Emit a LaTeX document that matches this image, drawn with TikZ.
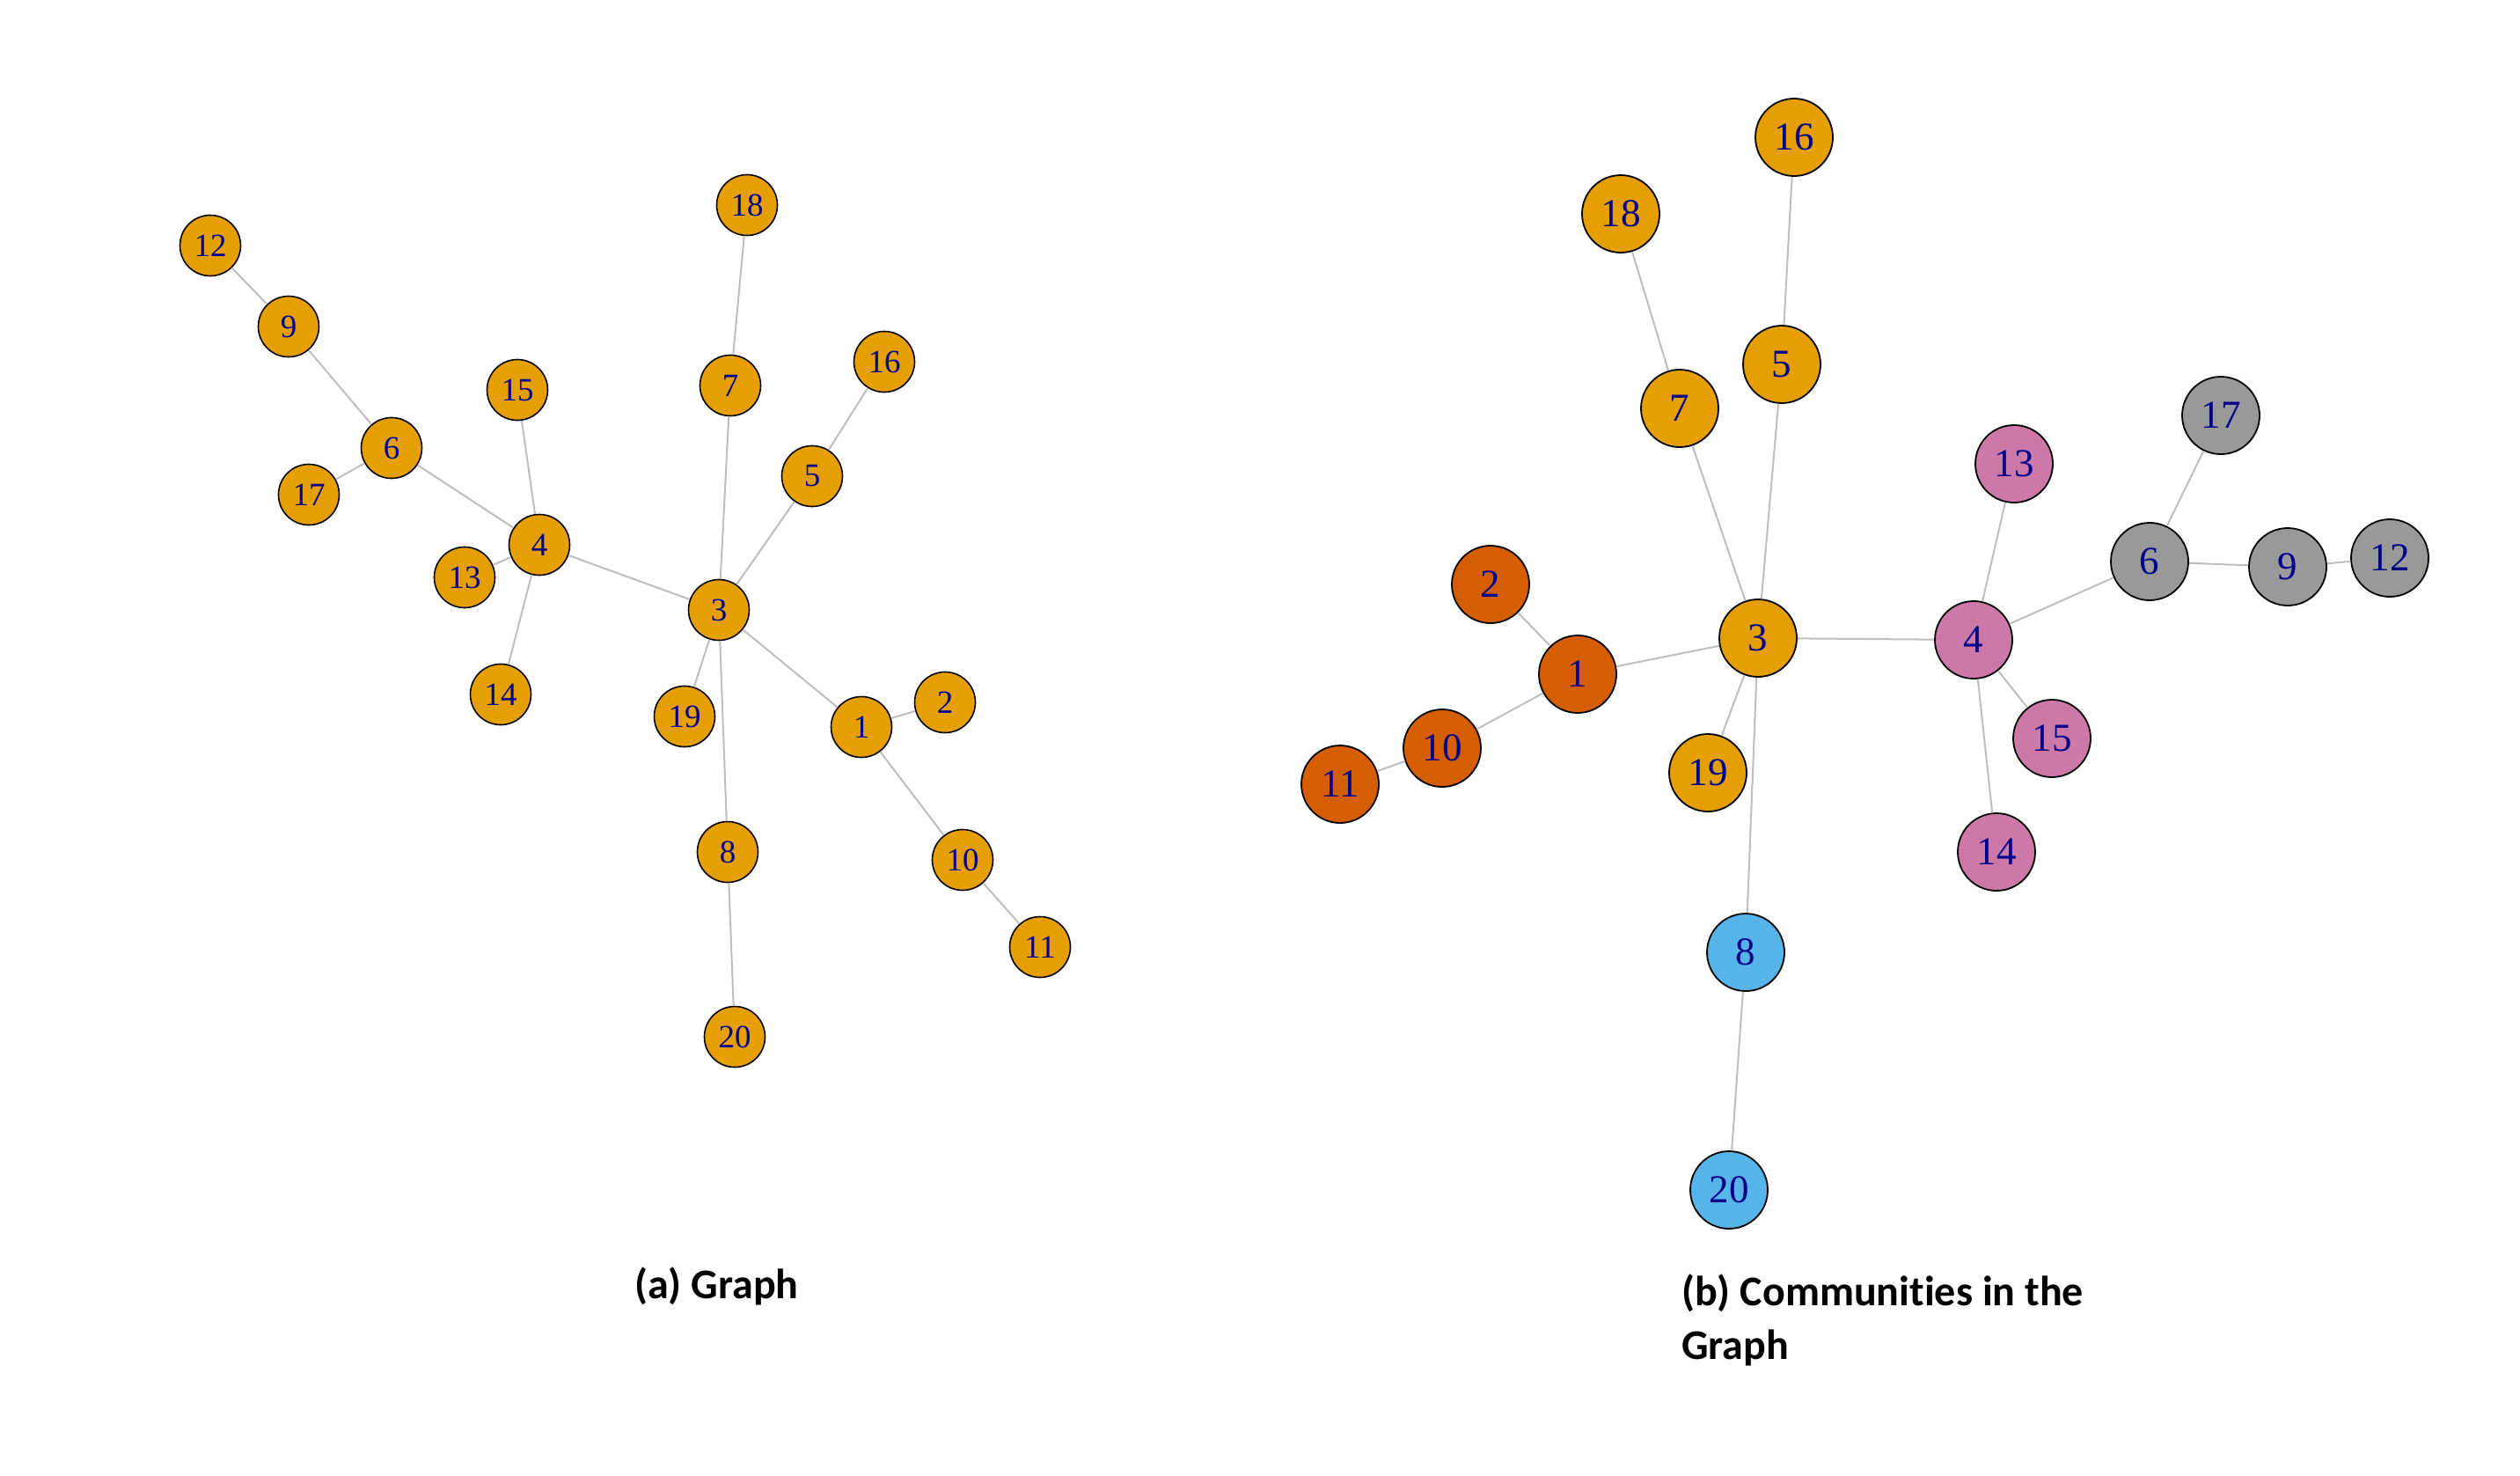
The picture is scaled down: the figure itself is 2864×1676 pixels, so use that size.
\documentclass[tikz,border=0pt]{standalone}
\usepackage{fontspec}
\newfontfamily\labfont{Liberation Serif}
\newfontfamily\capfont{Carlito}[Ligatures={NoCommon}]
\definecolor{cOr}{HTML}{E69F00}
\definecolor{cVe}{HTML}{D55E00}
\definecolor{cSk}{HTML}{56B4E9}
\definecolor{cPi}{HTML}{CC79A7}
\definecolor{cGr}{HTML}{999999}
\definecolor{edgec}{HTML}{BEBEBE}
\definecolor{labc}{HTML}{00008B}
\tikzset{
  va/.style={circle, draw=black, line width=1.6pt, minimum size=69pt, inner sep=0pt,
    text=labc, font=\labfont\fontsize{37}{40}\selectfont},
  vb/.style={circle, draw=black, line width=1.8pt, minimum size=88pt, inner sep=0pt,
    text=labc, font=\labfont\fontsize{45}{48}\selectfont},
  edg/.style={draw=edgec, line width=2pt},
  captext/.style={font=\capfont\bfseries\fontsize{48}{61}\selectfont, inner sep=0pt, text=black}
}
\begin{document}
\begin{tikzpicture}[x=1pt,y=-1pt]
\useasboundingbox[fill=white] (0,0) rectangle (2864,1676);
% ---------- (a) ----------
\node[va, fill=cOr] (a12) at (239,279) {12};
\node[va, fill=cOr] (a9)  at (328,371) {9};
\node[va, fill=cOr] (a6)  at (445,509) {6};
\node[va, fill=cOr] (a17) at (351,562) {17};
\node[va, fill=cOr] (a15) at (588,443) {15};
\node[va, fill=cOr] (a4)  at (613,619) {4};
\node[va, fill=cOr] (a13) at (528,656) {13};
\node[va, fill=cOr] (a14) at (569,789) {14};
\node[va, fill=cOr] (a18) at (849,233) {18};
\node[va, fill=cOr] (a7)  at (830,438) {7};
\node[va, fill=cOr] (a16) at (1005,411) {16};
\node[va, fill=cOr] (a5)  at (923,541) {5};
\node[va, fill=cOr] (a3)  at (817,693) {3};
\node[va, fill=cOr] (a19) at (778,814) {19};
\node[va, fill=cOr] (a1)  at (979,826) {1};
\node[va, fill=cOr] (a2)  at (1074,798) {2};
\node[va, fill=cOr] (a10) at (1094,977) {10};
\node[va, fill=cOr] (a11) at (1182,1076) {11};
\node[va, fill=cOr] (a8)  at (827,968) {8};
\node[va, fill=cOr] (a20) at (835,1178) {20};
\foreach \u/\v in {12/9,9/6,6/17,6/4,4/15,4/13,4/14,4/3,3/7,7/18,3/5,5/16,3/19,3/8,8/20,3/1,1/2,1/10,10/11}
  \draw[edg] (a\u) -- (a\v);
% ---------- (b) ----------
\node[vb, fill=cOr] (b16) at (2039,156) {16};
\node[vb, fill=cOr] (b18) at (1842,243) {18};
\node[vb, fill=cOr] (b5)  at (2025,414) {5};
\node[vb, fill=cOr] (b7)  at (1909,464) {7};
\node[vb, fill=cPi] (b13) at (2289,527) {13};
\node[vb, fill=cGr] (b17) at (2524,472) {17};
\node[vb, fill=cGr] (b6)  at (2443,638) {6};
\node[vb, fill=cGr] (b9)  at (2600,644) {9};
\node[vb, fill=cGr] (b12) at (2716,634) {12};
\node[vb, fill=cVe] (b2)  at (1694,664) {2};
\node[vb, fill=cVe] (b1)  at (1793,766) {1};
\node[vb, fill=cOr] (b3)  at (1998,725) {3};
\node[vb, fill=cPi] (b4)  at (2243,727) {4};
\node[vb, fill=cPi] (b15) at (2332,839) {15};
\node[vb, fill=cVe] (b10) at (1639,850) {10};
\node[vb, fill=cVe] (b11) at (1523,891) {11};
\node[vb, fill=cOr] (b19) at (1941,878) {19};
\node[vb, fill=cPi] (b14) at (2269,968) {14};
\node[vb, fill=cSk] (b8)  at (1984,1082) {8};
\node[vb, fill=cSk] (b20) at (1965,1352) {20};
\foreach \u/\v in {16/5,5/3,18/7,7/3,2/1,1/3,1/10,10/11,3/19,3/8,8/20,3/4,4/13,4/15,4/14,4/6,6/17,6/9,9/12}
  \draw[edg] (b\u) -- (b\v);
% ---------- captions ----------
\node[captext, anchor=base west] (capa) at (721,1475) {(a) Graph};
\node[captext, anchor=base west, align=left] (capb) at (1911,1544) {(b) Communities in the\\Graph};
\end{tikzpicture}
\end{document}
